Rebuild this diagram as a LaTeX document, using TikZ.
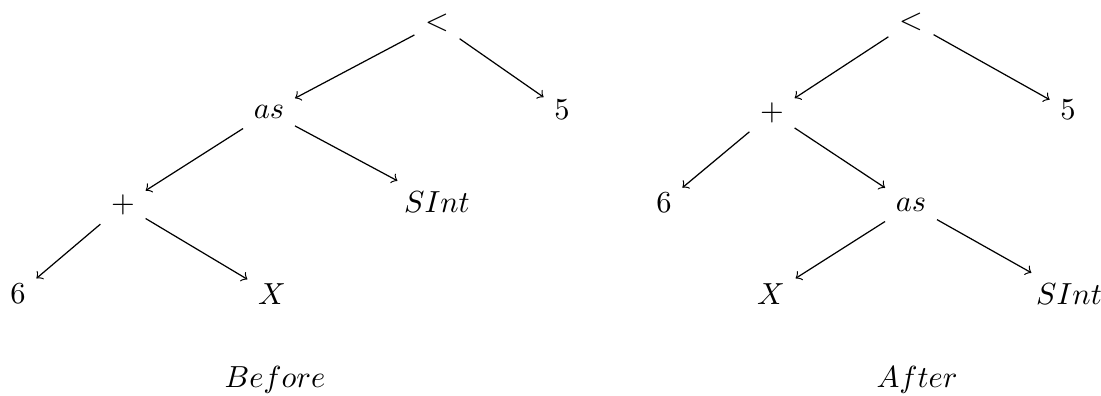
\documentclass[tikz,border=0pt]{standalone}
\begin{document}
\begin{tikzpicture}[x=0.328pt,y=-0.328pt,edge/.style={->}]
\useasboundingbox (0,0) rectangle (1101,396);
% Before tree
\node (lroot) at (437,23) {$<$};
\node (las) at (269,112) {$as$};
\node (lfive) at (562,110) {$5$};
\node (lplus) at (123,205) {$+$};
\node (lsint) at (437,202) {$SInt$};
\node (lsix) at (18,294) {$6$};
\node (lx) at (272,294) {$X$};
\node[anchor=base] (before) at (275,388) {$Before$};
\draw[edge] (lroot) -- (las);
\draw[edge] (lroot) -- (lfive);
\draw[edge] (las) -- (lplus);
\draw[edge] (las) -- (lsint);
\draw[edge] (lplus) -- (lsix);
\draw[edge] (lplus) -- (lx);
% After tree
\node (rroot) at (911,22) {$<$};
\node (rplus) at (772,113) {$+$};
\node (rfive) at (1068,110) {$5$};
\node (rsix) at (664,203) {$6$};
\node (ras) at (911,205) {$as$};
\node (rx) at (771,294) {$X$};
\node (rsint) at (1069,294) {$SInt$};
\node[anchor=base] (after) at (917,388) {$After$};
\draw[edge] (rroot) -- (rplus);
\draw[edge] (rroot) -- (rfive);
\draw[edge] (rplus) -- (rsix);
\draw[edge] (rplus) -- (ras);
\draw[edge] (ras) -- (rx);
\draw[edge] (ras) -- (rsint);
\end{tikzpicture}
\end{document}
